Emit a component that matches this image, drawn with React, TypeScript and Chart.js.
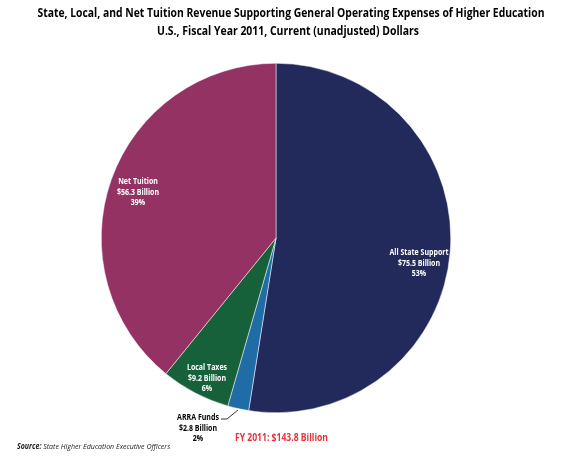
import React, { useEffect, useRef } from "react";
import { Chart, registerables } from "chart.js";

Chart.register(...registerables);

const categories = ["All State Support", "ARRA Funds", "Local Taxes", "Net Tuition"];
const values = [75.5, 2.8, 9.2, 56.3];
const valueLabels = ["$75.5 Billion", "$2.8 Billion", "$9.2 Billion", "$56.3 Billion"];
const percentLabels = ["53%", "2%", "6%", "39%"];
const colors = ["#222A5C", "#1F6CA6", "#16603A", "#943263"];
const titleLines = [
  "State, Local, and Net Tuition Revenue Supporting General Operating Expenses of Higher Education",
  "U.S., Fiscal Year 2011, Current (unadjusted) Dollars",
];
const totalLabel = "FY 2011: $143.8 Billion";

const FONT = '"Open Sans", "Liberation Sans", sans-serif';

function drawSqueezed(ctx: CanvasRenderingContext2D, text: string, cx: number, y: number, font: string, color: string, targetW?: number, align: CanvasTextAlign = "center", factor = 0.78) {
  ctx.save();
  ctx.font = font;
  ctx.fillStyle = color;
  ctx.textBaseline = "middle";
  const w = ctx.measureText(text).width;
  const sx = targetW ? targetW / w : factor;
  ctx.translate(cx, y);
  ctx.scale(sx, 1);
  ctx.textAlign = align;
  ctx.fillText(text, 0, 0);
  ctx.restore();
}

const annotations = {
  id: "annotations",
  afterDraw(chart: any) {
    const ctx = chart.ctx as CanvasRenderingContext2D;
    drawSqueezed(ctx, titleLines[0], 291, 13, `bold 13px ${FONT}`, "#000", 507);
    drawSqueezed(ctx, titleLines[1], 288, 31, `bold 13px ${FONT}`, "#000", 262);
    const lbl = `bold 9px ${FONT}`;
    const pos: Array<[number, number, string]> = [
      [419, 252, "#fff"],
      [198, 417, "#000"],
      [207, 367, "#fff"],
      [138, 181, "#fff"],
    ];
    categories.forEach((c, i) => {
      const [x, y, col] = pos[i];
      drawSqueezed(ctx, c, x, y, lbl, col);
      drawSqueezed(ctx, valueLabels[i], x, y + 11, lbl, col);
      drawSqueezed(ctx, percentLabels[i], x, y + 21.5, lbl, col);
    });
    // leader line for ARRA
    ctx.save();
    ctx.strokeStyle = "#000";
    ctx.lineWidth = 0.8;
    ctx.beginPath();
    ctx.moveTo(221, 419);
    ctx.lineTo(227, 419);
    ctx.lineTo(238, 410);
    ctx.stroke();
    ctx.restore();
    drawSqueezed(ctx, totalLabel, 235, 438, `bold 10px ${FONT}`, "#E8303A", 93, "left");
    // source
    ctx.save();
    ctx.font = `italic bold 8px ${FONT}`;
    ctx.textBaseline = "middle";
    ctx.fillStyle = "#222";
    ctx.translate(17, 447);
    ctx.scale(0.88, 1);
    ctx.fillText("Source:", 0, 0);
    const sw = ctx.measureText("Source: ").width;
    ctx.font = `italic 8px ${FONT}`;
    ctx.fillText("State Higher Education Executive Officers", sw, 0);
    ctx.restore();
  },
};

export default function App() {
  const ref = useRef<HTMLCanvasElement | null>(null);
  useEffect(() => {
    document.body.style.margin = "0";
    const chart = new Chart(ref.current!, {
      type: "pie",
      data: {
        labels: categories,
        datasets: [
          {
            data: values,
            backgroundColor: colors,
            borderColor: "#ffffff",
            borderWidth: 0.5,
          },
        ],
      },
      options: {
        animation: false,
        responsive: false,
        maintainAspectRatio: false,
        layout: { padding: { top: 63, bottom: 46, left: 101, right: 113 } },
        plugins: {
          legend: { display: false },
          tooltip: { enabled: false },
          title: { display: false },
        },
      },
      plugins: [annotations],
    });
    return () => chart.destroy();
  }, []);
  return (
    <div style={{ width: 564, height: 459, background: "#fff" }}>
      <canvas ref={ref} width={564} height={459} style={{ display: "block" }} />
    </div>
  );
}
